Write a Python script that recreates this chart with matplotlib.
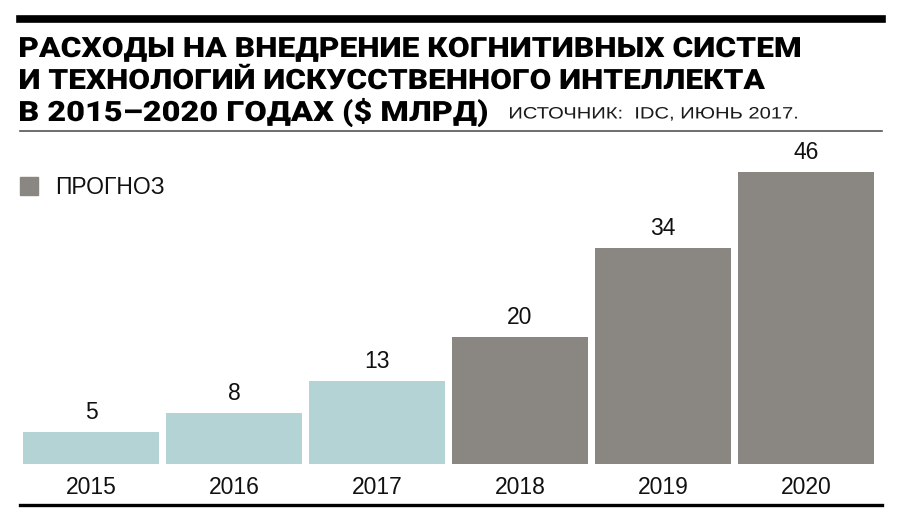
import matplotlib
matplotlib.use("Agg")
import matplotlib.pyplot as plt
from matplotlib.lines import Line2D
from matplotlib.patches import Rectangle, PathPatch
from matplotlib.textpath import TextPath
from matplotlib.font_manager import FontProperties
from matplotlib.transforms import Affine2D

years = ["2015", "2016", "2017", "2018", "2019", "2020"]
spending = [5, 8, 13, 20, 34, 46]
is_forecast = [False, False, False, True, True, True]

title_lines = [
    "РАСХОДЫ НА ВНЕДРЕНИЕ КОГНИТИВНЫХ СИСТЕМ",
    "И ТЕХНОЛОГИЙ ИСКУССТВЕННОГО ИНТЕЛЛЕКТА",
    "В 2015–2020 ГОДАХ ($ МЛРД)",
]
source_text = "ИСТОЧНИК:  IDC, ИЮНЬ 2017."
legend_text = "ПРОГНОЗ"

W, H = 901, 524
actual_color = "#b4d3d5"
forecast_color = "#8a8782"

fig = plt.figure(figsize=(W / 100, H / 100), dpi=100)


def px(x, y):
    # pixel coords (from top-left) -> figure fraction
    return x / W, 1 - y / H


def fitted_text(text, x0, x1, baseline, size, prop, color):
    """Draw text as a path, stretched so it runs from x0 to x1 (pixels)."""
    tp = TextPath((0, 0), text, size=size, prop=prop)
    ext = tp.get_extents()
    sx = (x1 - x0) / ext.width
    tr = (Affine2D().translate(-ext.x0, 0).scale(sx, 1)
          .translate(x0, H - baseline).scale(1 / W, 1 / H) + fig.transFigure)
    fig.add_artist(PathPatch(tp, transform=tr, color=color, lw=0))


# axes: bars from x=23 to 874, baseline y=464, value 46 at y=172
ax = fig.add_axes([23 / W, 1 - 464 / H, (874 - 23) / W, (464 - 172) / H])
bar_w = 136 / 143
colors = [forecast_color if f else actual_color for f in is_forecast]
xs = range(len(years))
ax.bar(xs, spending, width=bar_w, color=colors)
ax.set_xlim(-bar_w / 2, len(years) - 1 + bar_w / 2)
ax.set_ylim(0, max(spending))
ax.axis("off")

label_font = "Liberation Sans"
for x, v in zip(xs, spending):
    ax.annotate(str(v), (x, v), xytext=(0, 6), textcoords="offset points",
                ha="center", va="bottom", fontsize=16.5, family=label_font,
                color="#111111")
    ax.annotate(years[x], (x, 0), xytext=(0, -17), textcoords="offset points",
                ha="center", va="center", fontsize=16.5, family=label_font,
                color="#111111")

# rules
fig.add_artist(Line2D([20 / W, 882 / W], [1 - 18.5 / H] * 2, color="black", lw=5.5))
fig.add_artist(Line2D([20 / W, 882 / W], [1 - 131 / H] * 2, color="#555555", lw=1.2))
fig.add_artist(Line2D([20 / W, 882 / W], [1 - 505 / H] * 2, color="black", lw=2.4))

# title
heavy = FontProperties(family="Roboto", weight="black")
light = FontProperties(family=label_font, weight="normal")
title_right = [800, 765, 487]
for i, line in enumerate(title_lines):
    fitted_text(line, 20, title_right[i], 57 + i * 32, 28, heavy, "black")
fitted_text(source_text, 510, 797, 118.5, 16.5, light, "#1a1a1a")

# legend
fig.add_artist(Rectangle(px(20, 195), 18 / W, 18 / H, color=forecast_color,
                         transform=fig.transFigure))
fig.text(*px(55, 187), legend_text, ha="left", va="center", fontsize=16.5,
         family=label_font, color="#111111")

fig.savefig("out.png", dpi=100)
